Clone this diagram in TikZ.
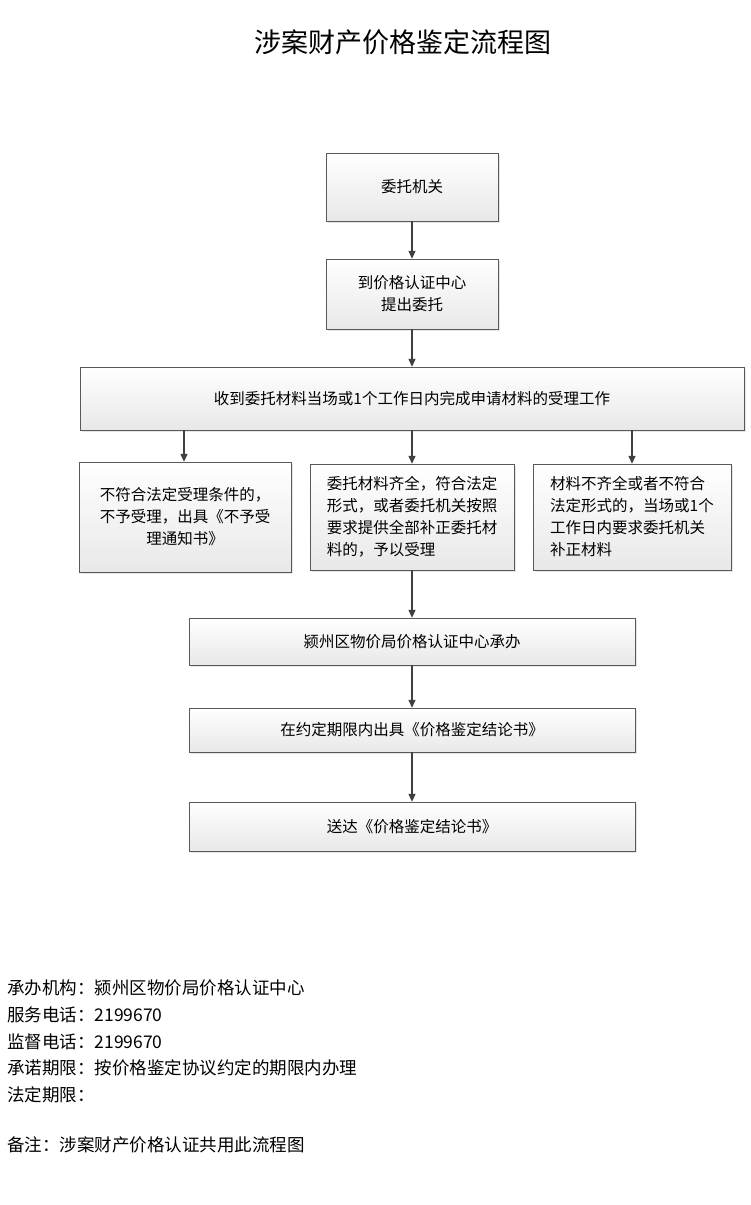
\documentclass[tikz,border=0pt]{standalone}
\usepackage{fontspec}
\setmainfont{Noto Sans CJK SC}
\usetikzlibrary{arrows.meta,shadows}
\begin{document}
\begin{tikzpicture}[x=1pt,y=-1pt,
  bx/.style={draw=gray!70!black,top color=white,bottom color=gray!18,drop shadow={shadow xshift=1.5pt,shadow yshift=-1.5pt,fill=gray!40},inner sep=0pt,font=\fontsize{15.5}{22}\selectfont},
  ar/.style={draw=black!75,line width=1.3pt,-{Triangle[length=8pt,width=7pt]}}]
\useasboundingbox (0,0) rectangle (750,1205);
\node[font=\fontsize{27}{30}\selectfont] (title) at (403,42) {涉案财产价格鉴定流程图};
\node[bx,minimum width=172pt,minimum height=68pt] (a) at (412,187) {委托机关};
\node[bx,minimum width=172pt,minimum height=70pt,align=center] (b) at (412,294) {到价格认证中心\\提出委托};
\node[bx,minimum width=664pt,minimum height=63pt] (c) at (412,398.5) {收到委托材料当场或1个工作日内完成申请材料的受理工作};
\node[bx,minimum width=212pt,minimum height=110pt,align=center] (d) at (185,517) {不符合法定受理条件的，\\不予受理，出具《不予受\\理通知书》};
\node[bx,minimum width=204pt,minimum height=106pt,align=left] (e) at (412,517) {委托材料齐全，符合法定\\形式，或者委托机关按照\\要求提供全部补正委托材\\料的，予以受理};
\node[bx,minimum width=198pt,minimum height=106pt,align=left] (f) at (632,517) {材料不齐全或者不符合\\法定形式的，当场或1个\\工作日内要求委托机关\\补正材料};
\node[bx,minimum width=446pt,minimum height=47pt] (g) at (412,641.5) {颍州区物价局价格认证中心承办};
\node[bx,minimum width=446pt,minimum height=44pt] (h) at (412,730) {在约定期限内出具《价格鉴定结论书》};
\node[bx,minimum width=446pt,minimum height=49pt] (i) at (412,826.5) {送达《价格鉴定结论书》};
\draw[ar] (a) -- (b);
\draw[ar] (b) -- (c);
\draw[ar] (c.south -| 184,0) -- (d.north -| 184,0);
\draw[ar] (c) -- (e);
\draw[ar] (c.south -| 632,0) -- (f.north -| 632,0);
\draw[ar] (e) -- (g);
\draw[ar] (g) -- (h);
\draw[ar] (h) -- (i);
\begin{scope}[every node/.style={anchor=west,font=\fontsize{17.5}{20}\selectfont,inner sep=0pt}]
\node (t1) at (7,988) {承办机构：颍州区物价局价格认证中心};
\node (t2) at (7,1015) {服务电话：2199670};
\node (t3) at (7,1042) {监督电话：2199670};
\node (t4) at (7,1068) {承诺期限：按价格鉴定协议约定的期限内办理};
\node (t5) at (7,1095) {法定期限：};
\node (t6) at (7,1145) {备注：涉案财产价格认证共用此流程图};
\end{scope}
\end{tikzpicture}
\end{document}
